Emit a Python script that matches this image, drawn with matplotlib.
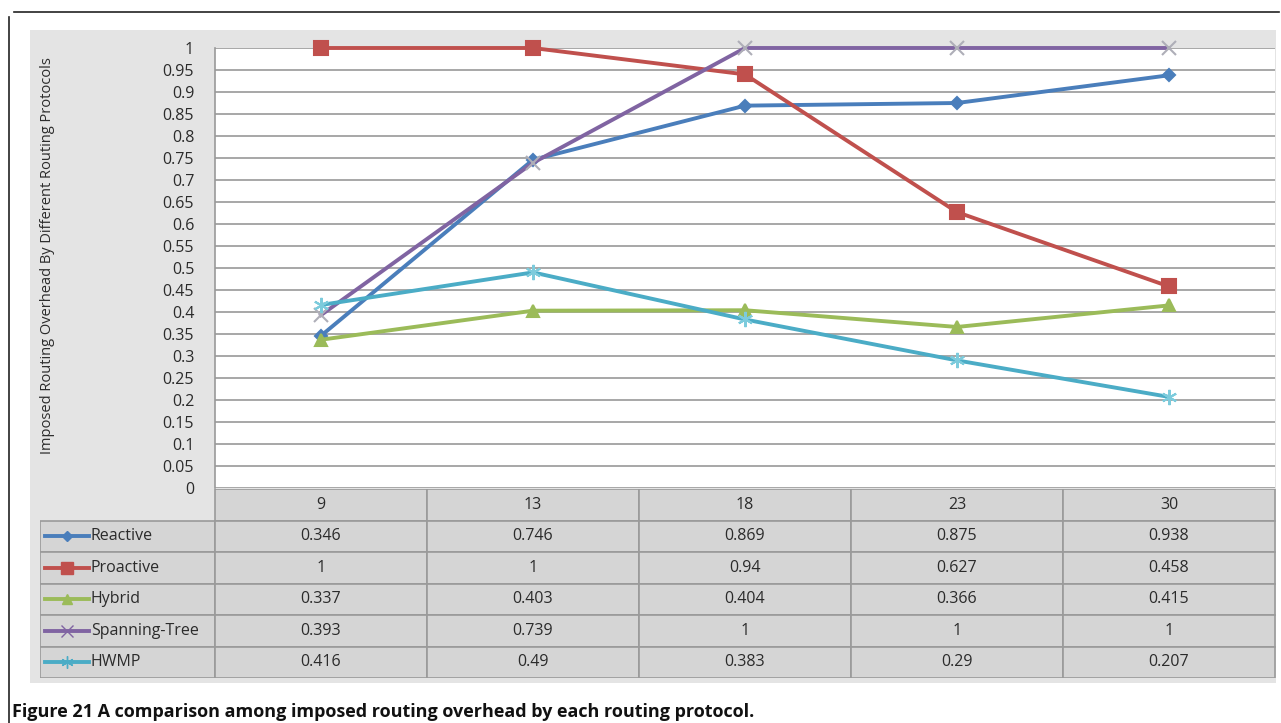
"""Routing overhead per protocol: line chart with an attached data table."""

import matplotlib
matplotlib.use("Agg")
import matplotlib.pyplot as plt
from matplotlib.patches import Rectangle
from matplotlib.lines import Line2D

node_counts = ["9", "13", "18", "23", "30"]
protocols = ["Reactive", "Proactive", "Hybrid", "Spanning-Tree", "HWMP"]

reactive = [0.346, 0.746, 0.869, 0.875, 0.938]
proactive = [1, 1, 0.94, 0.627, 0.458]
hybrid = [0.337, 0.403, 0.404, 0.366, 0.415]
spanning_tree = [0.393, 0.739, 1, 1, 1]
hwmp = [0.416, 0.49, 0.383, 0.29, 0.207]

y_ticks = [i * 0.05 for i in range(21)]
y_tick_labels = ["0", "0.05", "0.1", "0.15", "0.2", "0.25", "0.3", "0.35", "0.4",
                 "0.45", "0.5", "0.55", "0.6", "0.65", "0.7", "0.75", "0.8",
                 "0.85", "0.9", "0.95", "1"]

y_label = "Imposed Routing Overhead By Different Routing Protocols"
caption_bold = "Figure 21"
caption_text = " A comparison among imposed routing overhead by each routing protocol."

series = [reactive, proactive, hybrid, spanning_tree, hwmp]
colors = ["#4a7ebb", "#c0504d", "#9bbb59", "#8064a2", "#4bacc6"]
markers = ["D", "s", "^", "x", (6, 2, 0)]
marker_sizes = [6, 10, 9, 10, 11]
marker_colors = ["#4a7ebb", "#c0504d", "#9bbb59", "#aeaeb8", "#7ccbdc"]

W, H = 1281, 723
fig = plt.figure(figsize=(W / 100, H / 100), dpi=100)
fig.patch.set_facecolor("white")


def fx(px):
    return px / W


def fy(py):
    return 1 - py / H


# grey chart panel
fig.patches.append(Rectangle((fx(30), fy(683)), fx(1276) - fx(30), fy(30) - fy(683),
                             transform=fig.transFigure, facecolor="#e4e4e4",
                             edgecolor="none", zorder=-10))

# figure frame (top and left only)
fig.add_artist(Line2D([fx(14), fx(1279)], [fy(12), fy(12)], transform=fig.transFigure,
                      color="#222222", lw=1.2))
fig.add_artist(Line2D([fx(9), fx(9)], [fy(17), fy(723)], transform=fig.transFigure,
                      color="#222222", lw=1.2))

font = "Open Sans"
txt_color = "#2b2b2b"
fs = 11.5

# plot area
left, right, top, bottom = 215, 1275, 48, 488
ax = fig.add_axes([fx(left), fy(bottom), fx(right) - fx(left), fy(top) - fy(bottom)])
ax.set_facecolor("white")
ax.set_xlim(-0.5, len(node_counts) - 0.5)
ax.set_ylim(0, 1)
ax.set_yticks(y_ticks)
ax.set_yticklabels(y_tick_labels, fontsize=fs, family=font, color=txt_color)
ax.tick_params(axis="y", length=0, pad=15)
ax.set_xticks([])
for s in ["top", "right", "bottom"]:
    ax.spines[s].set_visible(False)
ax.spines["left"].set_color("#999999")
ax.spines["left"].set_linewidth(1.2)
ax.grid(True, axis="y", color="#a0a0a0", linewidth=1.3)
ax.set_axisbelow(True)

x = range(len(node_counts))
for vals, c, m, ms, mc in zip(series, colors, markers, marker_sizes, marker_colors):
    ax.plot(x, vals, color=c, linewidth=2.8, marker=m, markersize=ms,
            markerfacecolor=mc, markeredgecolor=mc, markeredgewidth=1.5,
            clip_on=False, zorder=3)

fig.text(fx(48), fy(256), y_label, rotation=90, ha="center", va="center",
         fontsize=10.5, family=font, color=txt_color)

# data table below the plot
tab = fig.add_axes([fx(40), fy(678), fx(1276) - fx(40), fy(489) - fy(678)])
tab.set_xlim(40, 1276)
tab.set_ylim(678, 489)
tab.axis("off")

col_w = (right - left) / len(node_counts)
row_h = (678 - 489) / (len(protocols) + 1)
cell_fc = "#d5d5d5"
cell_ec = "#9a9a9a"

for j, label in enumerate(node_counts):
    x0 = left + j * col_w
    tab.add_patch(Rectangle((x0, 489), col_w, row_h, facecolor=cell_fc,
                            edgecolor=cell_ec, linewidth=1.2))
    tab.text(x0 + col_w / 2, 489 + row_h / 2, label, ha="center", va="center",
             fontsize=fs, family=font, color=txt_color)

for i, (name, vals) in enumerate(zip(protocols, series)):
    y0 = 489 + (i + 1) * row_h
    tab.add_patch(Rectangle((40, y0), left - 40, row_h, facecolor=cell_fc,
                            edgecolor=cell_ec, linewidth=1.2))
    tab.plot([45, 89], [y0 + row_h / 2] * 2, color=colors[i], linewidth=2.8)
    tab.plot([67], [y0 + row_h / 2], color=colors[i], marker=markers[i],
             markersize=marker_sizes[i] * 0.8, markerfacecolor=colors[i],
             markeredgecolor=colors[i])
    tab.text(91, y0 + row_h / 2, name, ha="left", va="center",
             fontsize=fs, family=font, color=txt_color)
    for j, v in enumerate(vals):
        x0 = left + j * col_w
        tab.add_patch(Rectangle((x0, y0), col_w, row_h, facecolor=cell_fc,
                                edgecolor=cell_ec, linewidth=1.2))
        tab.text(x0 + col_w / 2, y0 + row_h / 2, f"{v:g}", ha="center",
                 va="center", fontsize=fs, family=font, color=txt_color)

# caption
cap = fig.text(fx(12), fy(712), caption_bold, ha="left", va="center",
               fontsize=13, family="Open Sans", weight="bold", color="#111111")
fig.canvas.draw()
bb = cap.get_window_extent()
fig.text(bb.x1 / W, fy(712), caption_text, ha="left", va="center",
         fontsize=13, family="Open Sans", weight="bold", color="#111111")

fig.savefig("out.png", dpi=100, facecolor="white")
